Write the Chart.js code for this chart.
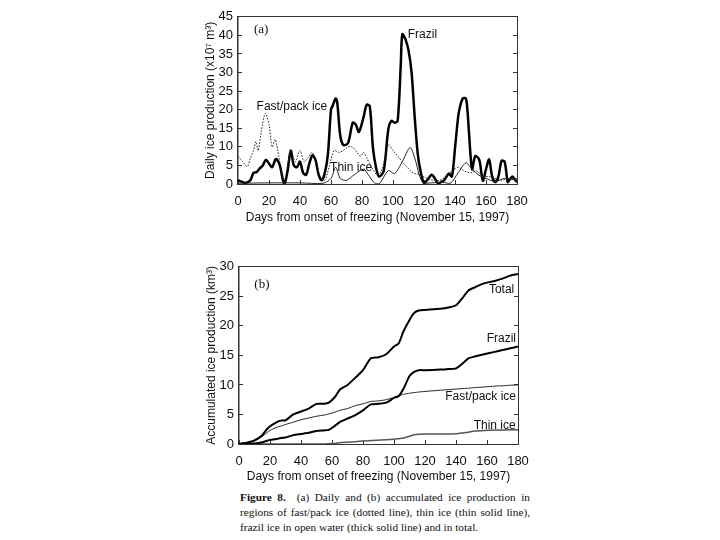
<!DOCTYPE html>
<html>
<head>
<meta charset="utf-8">
<script src="https://cdn.jsdelivr.net/npm/chart.js@4"></script>
<style>
  body { margin: 0; background: #fff; width: 720px; height: 540px; position: relative; overflow: hidden; }
  canvas { position: absolute; left: 0; }
  #cap { position: absolute; left: 240px; top: 490px; width: 290px; font: 11.3px "Liberation Serif", "Times New Roman", serif; line-height: 15px; color: #111; }
  #cap div { text-align: justify; text-align-last: justify; white-space: nowrap; }
  #cap div.last { text-align-last: left; }
</style>
</head>
<body>
<canvas id="chartA" width="720" height="235" style="top:0;width:720px;height:235px"></canvas>
<canvas id="chartB" width="720" height="240" style="top:250px;width:720px;height:240px"></canvas>
<div id="cap">
  <div><b>Figure 8.</b>&nbsp; (a) Daily and (b) accumulated ice production in</div>
  <div>regions of fast/pack ice (dotted line), thin ice (thin solid line),</div>
  <div class="last">frazil ice in open water (thick solid line) and in total.</div>
</div>
<script>
// (a) daily production, x10^7 m^3
const frazilDays = [0,3,5,8,10,12,14,16,18,20,
  22,24,25,27,29,30,32,34,36,38,
  40,42,44,46,48,50,52,54,56,58,
  60,61,63,64,66,68,71,74,76,78,
  81,83,85,87,89,91,94,97,99,101,
  103,105,106,108,110,112,114,116,118,120,
  122,125,127,129,131,133,136,138,140,142,
  143,145,147,148,149,151,153,155,156,158,
  160,162,164,166,168,170,172,174,175,177,
  179,180];
const frazilDaily = [1,0.5,0.3,1,3,3.2,4.2,5,6.5,5.5,
  4.5,6.5,6.7,5,1,0,3.5,9,5,4.5,
  6,3,2.5,5.5,7.7,6.5,2.5,1,3,8,
  20,21,23,22,13,10.5,11,16.5,16,14,
  18,21.3,21,10,4.5,2,3.5,14.8,17,16.5,
  17,32,40.3,39,36,30,18,8,3,0.3,
  1,2.5,1.5,0.2,0.5,1,2.8,2,9.6,18,
  20.4,23,23,20,14,4,7.5,7,6,0.9,
  4,6.6,2,0.5,2,6.2,6,0.5,1,2,
  1,0.5];

const fastDays = [0,3,6,8,10,11.6,13,15,17.6,20,
  22,24,26.5,29.5,32,34,37,40,42.6,45,
  48,51,53,56,59,62,65,68,71,73.5,
  76,79,81,83,85,87.5,90,93,97,100,
  104,108,113,117,122,126,130,134,138,142,
  146,150,154,158,162,166,170,175,180];
const fastDaily = [7.5,6,4.7,7,9,11.4,9,14,19,16,
  10,12,7,0,5,9,6,9,6,7,
  8.5,5,2,1,5,9,8.5,9,10,10,
  9,7.5,8.5,7,5.5,3.6,2.4,4,10.5,9,
  7,5,3,2.5,1.5,1,1,2,3.5,4.5,
  3.5,3,3.5,2,2,1.5,1,1.5,1.5];

const thinDays = [0,20,40,55,60,63,66,70,75,81,84,88,91,97,101,106,111,114,119,125,132,137,142,147,150,155,160,166,172,180];
const thinDaily = [0.2,0.3,0.3,0.2,1.5,4.5,1.5,1,2.5,4,2.5,0.3,0,3.6,2.8,6,9.8,7,0.5,0.3,0.5,0.2,3,5.7,4.5,2.5,1.5,0.7,1.5,1];

// (b) accumulated production, km^3
const accDays = [0,5,10,15,18,20,25,28,30,35,40,45,50,55,58,62,65,70,75,80,85,90,95,100,103,106,110,113,116,120,130,135,140,145,148,152,158,165,170,175,180];
const totalAcc = [0,0.2,0.6,1.5,2.5,3,3.8,4,4,5,5.5,6,6.8,6.8,7,8,9.2,10,11.2,12.5,14.5,14.7,15.2,16.5,17,19,21,22.2,22.6,22.7,22.9,23.1,23.5,25,26,26.5,27.2,27.6,28,28.5,28.8];
const frazilAcc = [0,0.05,0.1,0.3,0.55,0.7,0.9,1.05,1.1,1.5,1.7,1.9,2.2,2.3,2.4,3.1,3.7,4.3,4.9,5.7,6.7,6.8,7,7.8,8.1,9.3,11.5,12.2,12.5,12.5,12.6,12.7,12.8,13.8,14.5,14.8,15.2,15.6,15.9,16.2,16.5];
const fastAcc = [0,0.2,0.5,1.3,1.9,2.3,2.9,3.1,3.3,3.7,4.1,4.4,4.7,4.9,5.1,5.4,5.7,6,6.5,6.8,7.2,7.3,7.5,7.9,8.2,8.4,8.6,8.7,8.8,8.9,9.1,9.2,9.3,9.4,9.45,9.55,9.65,9.8,9.85,9.95,10];
const thinAcc = [0,0,0,0,0,0,0,0,0,0,0,0,0,0,0.05,0.1,0.2,0.3,0.4,0.5,0.6,0.65,0.7,0.8,0.9,1,1.3,1.55,1.65,1.7,1.7,1.7,1.75,1.9,2,2.2,2.3,2.35,2.35,2.4,2.4];

const xTicks = [0,20,40,60,80,100,120,140,160,180];
const dailyTicks = [0,5,10,15,20,25,30,35,40,45];
const accTicks = [0,5,10,15,20,25,30];

const sans = '"Liberation Sans", Arial, sans-serif';
const ink = '#111';
const frame = '#333';

function pts(xs, ys) { return xs.map((x, i) => ({ x: x, y: ys[i] })); }

const notes = {
  id: 'notes',
  afterDatasetsDraw(chart, args, opts) {
    const ctx = chart.ctx, sx = chart.scales.x, sy = chart.scales.y;
    ctx.save();
    ctx.fillStyle = ink;
    ctx.textBaseline = 'middle';
    opts.items.forEach(n => {
      ctx.font = n.font || ('12px ' + sans);
      ctx.textAlign = n.align || 'left';
      ctx.fillText(n.text, sx.getPixelForValue(n.x), sy.getPixelForValue(n.y));
    });
    ctx.restore();
  }
};

function scales(yTicks, yTitle, xHeight, labelPad, titlePad) {
  const tickList = list => s => { s.ticks = list.map(v => ({ value: v })); };
  return {
    x: {
      type: 'linear', position: 'bottom', min: 0, max: 180,
      afterBuildTicks: tickList(xTicks),
      afterFit: s => { s.height = xHeight; },
      grid: { drawOnChartArea: false, tickLength: -4, color: frame },
      border: { color: frame, width: 1 },
      ticks: { padding: labelPad, color: ink, font: { size: 13, family: sans }, maxRotation: 0, autoSkip: false },
      title: { display: true, text: 'Days from onset of freezing (November 15, 1997)', color: ink,
               font: { size: 12, family: sans }, padding: { top: 0, bottom: titlePad } }
    },
    x2: {
      type: 'linear', position: 'top', min: 0, max: 180,
      afterFit: s => { s.height = 0; },
      grid: { drawOnChartArea: false, drawTicks: false },
      border: { color: frame, width: 1 },
      ticks: { display: false }
    },
    y: {
      type: 'linear', position: 'left', min: 0, max: yTicks[yTicks.length - 1],
      afterBuildTicks: tickList(yTicks),
      afterFit: s => { s.width = 38; },
      grid: { drawOnChartArea: false, tickLength: -4, color: frame },
      border: { color: frame, width: 1.5 },
      ticks: { padding: 9, color: ink, font: { size: 13, family: sans }, autoSkip: false },
      title: { display: true, text: yTitle, color: ink, font: { size: 12, family: sans }, padding: { top: 3, bottom: 0 } }
    },
    y2: {
      type: 'linear', position: 'right', min: 0, max: yTicks[yTicks.length - 1],
      afterBuildTicks: tickList(yTicks),
      afterFit: s => { s.width = 0; },
      grid: { drawOnChartArea: false, tickLength: -4, color: frame },
      border: { color: frame, width: 1 },
      ticks: { display: false, autoSkip: false }
    }
  };
}

new Chart(document.getElementById('chartA'), {
  type: 'line',
  data: {
    datasets: [
      { label: 'Fast/pack ice', data: pts(fastDays, fastDaily), borderColor: '#222', borderWidth: 1, borderDash: [1.5, 1.5], tension: 0.3 },
      { label: 'Thin ice', data: pts(thinDays, thinDaily), borderColor: '#222', borderWidth: 1, tension: 0.3 },
      { label: 'Frazil', data: pts(frazilDays, frazilDaily), borderColor: '#000', borderWidth: 2.5, tension: 0.3 }
    ]
  },
  options: {
    responsive: false,
    animation: false,
    elements: { point: { radius: 0 } },
    layout: { padding: { left: 200, right: 203, top: 10, bottom: 0 } },
    plugins: {
      legend: { display: false },
      tooltip: { enabled: false },
      notes: { items: [
        { text: '(a)', x: 10.3, y: 41.6, font: '13px "Liberation Serif", serif' },
        { text: 'Frazil', x: 109.5, y: 40.3 },
        { text: 'Fast/pack ice', x: 12, y: 20.9 },
        { text: 'Thin ice', x: 59.4, y: 4.5 }
      ] }
    },
    scales: scales(dailyTicks, 'Daily ice production (x10\u2077 m\u00b3)', 51, 14, 10)
  },
  plugins: [notes]
});

new Chart(document.getElementById('chartB'), {
  type: 'line',
  data: {
    datasets: [
      { label: 'Total', data: pts(accDays, totalAcc), borderColor: '#000', borderWidth: 2, tension: 0.2 },
      { label: 'Frazil', data: pts(accDays, frazilAcc), borderColor: '#000', borderWidth: 2, tension: 0.2 },
      { label: 'Fast/pack ice', data: pts(accDays, fastAcc), borderColor: '#222', borderWidth: 1, tension: 0.2 },
      { label: 'Thin ice', data: pts(accDays, thinAcc), borderColor: '#555', borderWidth: 1.5, tension: 0.2 }
    ]
  },
  options: {
    responsive: false,
    animation: false,
    elements: { point: { radius: 0 } },
    layout: { padding: { left: 201, right: 202, top: 10, bottom: 0 } },
    plugins: {
      legend: { display: false },
      tooltip: { enabled: false },
      notes: { items: [
        { text: '(b)', x: 9.9, y: 27, font: '13px "Liberation Serif", serif' },
        { text: 'Total', x: 177.6, y: 26.1, align: 'right' },
        { text: 'Frazil', x: 178.7, y: 17.9, align: 'right' },
        { text: 'Fast/pack ice', x: 178.7, y: 8.0, align: 'right' },
        { text: 'Thin ice', x: 178.5, y: 3.1, align: 'right' }
      ] }
    },
    scales: scales(accTicks, 'Accumulated ice production (km\u00b3)', 46, 14, 6)
  },
  plugins: [notes]
});
</script>
</body>
</html>
